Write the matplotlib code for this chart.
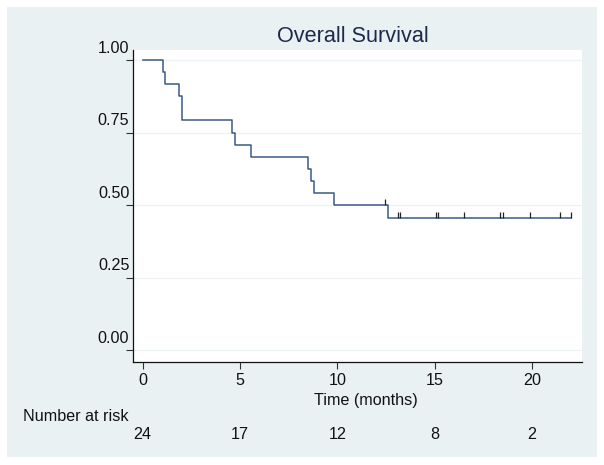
import matplotlib.pyplot as plt
import matplotlib.transforms as mtransforms
from matplotlib.patches import Rectangle

plt.rcParams['font.family'] = ['Liberation Sans', 'DejaVu Sans']

# Kaplan-Meier steps
step_times = [0, 1.04, 1.16, 1.88, 2.0, 4.61, 4.76, 5.57, 8.48, 8.65, 8.81, 9.82, 12.6]
step_surv = [1.0, 0.958, 0.917, 0.875, 0.792, 0.75, 0.708, 0.667, 0.625, 0.583, 0.542, 0.5, 0.455]
end_time = 22.02

# censored observations (tick marks)
censor_times = [12.46, 13.14, 13.23, 15.05, 15.2, 16.53, 18.37, 18.5, 19.9, 21.47, 22.02]
censor_surv = [0.5, 0.455, 0.455, 0.455, 0.455, 0.455, 0.455, 0.455, 0.455, 0.455, 0.455]

# number at risk table
risk_times = [0, 5, 10, 15, 20]
risk_counts = [24, 17, 12, 8, 2]

y_ticks = [0.0, 0.25, 0.5, 0.75, 1.0]
y_labels = ['0.00', '0.25', '0.50', '0.75', '1.00']

bg = '#EAF1F3'
line_col = '#3A5A85'
txt = '#111111'
fs = 11.6

fig = plt.figure(figsize=(6.04, 4.65), dpi=100, facecolor='white')
fig.patches.append(Rectangle((6.7 / 604, 8 / 465), 590 / 604, 450 / 465,
                             transform=fig.transFigure, facecolor=bg,
                             edgecolor='none', zorder=-10))

ax = fig.add_axes([133.3 / 604, 103.3 / 465, 448.4 / 604, 311.7 / 465])
ax.set_zorder(2)
ax.set_facecolor('white')
ax.set_xlim(-0.48, 22.56)
ax.set_ylim(-0.04, 1.0345)

# grid lines
for yv in y_ticks:
    ax.axhline(yv, color='#EDF3F5', lw=0.9, zorder=1)

# survival curve
ax.step(step_times + [end_time], step_surv + [step_surv[-1]], where='post',
        color=line_col, lw=1.1, zorder=3)
ax.vlines(censor_times, censor_surv, [s + 0.02 for s in censor_surv],
          color='#222222', lw=0.9, zorder=4)

for side in ['top', 'right']:
    ax.spines[side].set_visible(False)
for side in ['left', 'bottom']:
    ax.spines[side].set_color('#111111')
    ax.spines[side].set_linewidth(0.9)

ax.set_xticks(risk_times)
ax.set_xticklabels([str(t) for t in risk_times], fontsize=fs, color=txt)
ax.tick_params(axis='x', length=5, width=0.8, pad=3, color='#333333')

ax.set_yticks(y_ticks)
ax.set_yticklabels([])
ax.tick_params(axis='y', length=5, width=0.8, color='#333333')

# y labels sit a bit above their ticks, like in the original
offset = mtransforms.ScaledTranslation(-4 / 100, 12 / 100, fig.dpi_scale_trans)
ytrans = ax.get_yaxis_transform() + offset
for yv, lab in zip(y_ticks, y_labels):
    ax.text(0, yv, lab, transform=ytrans, ha='right', va='center',
            fontsize=fs, color=txt)

fig.text(353 / 604, (465 - 37) / 465, 'Overall Survival', ha='center',
         va='center', fontsize=15.6, color='#1E2A4C')
fig.text(366 / 604, (465 - 400) / 465, 'Time (months)', ha='center',
         va='center', fontsize=fs, color=txt)
fig.text(22.7 / 604, (465 - 416) / 465, 'Number at risk', ha='left',
         va='center', fontsize=fs, color=txt)

risk_trans = mtransforms.blended_transform_factory(ax.transData, fig.transFigure)
for t, n in zip(risk_times, risk_counts):
    ax.text(t, (465 - 434) / 465, str(n), transform=risk_trans, ha='center',
            va='center', fontsize=fs, color=txt, clip_on=False)

fig.savefig('out.png', dpi=100, facecolor='white')
